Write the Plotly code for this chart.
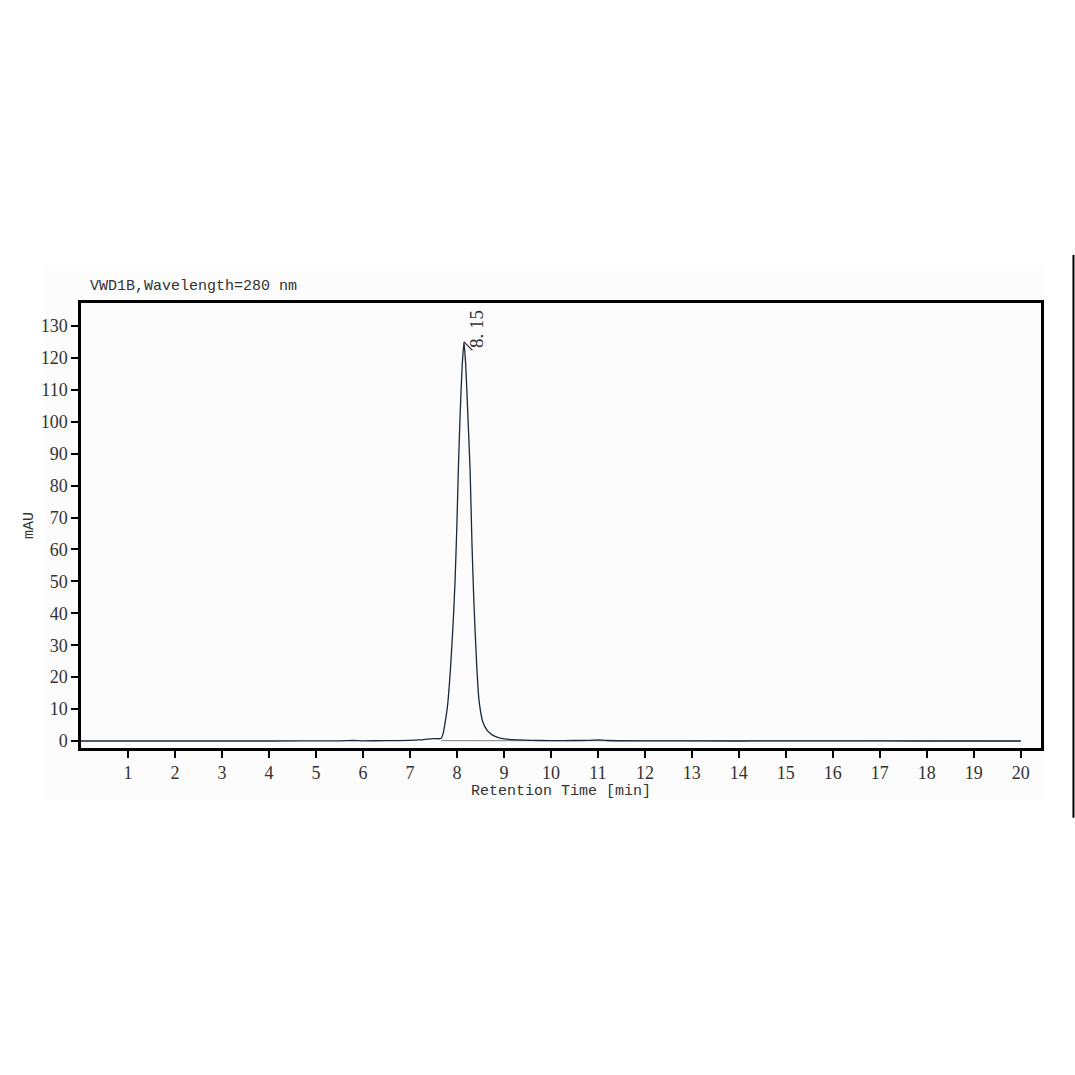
import plotly.graph_objects as go

# Chromatogram signal (time in min, signal in mAU)
time_min = [0.0, 2.0, 4.0, 5.5, 5.8, 6.0, 6.5, 7.0, 7.2, 7.35, 7.5, 7.6, 7.66, 7.70,
            7.74, 7.80, 7.86, 7.92, 7.96, 8.00, 8.03, 8.07, 8.11, 8.15, 8.19, 8.23,
            8.28, 8.32, 8.36, 8.42, 8.47, 8.55, 8.64, 8.75, 8.9, 9.06, 9.3, 9.6,
            10.0, 10.5, 10.8, 11.0, 11.2, 12.0, 14.0, 16.0, 18.0, 20.0]
signal_mau = [0.0, 0.0, 0.0, 0.05, 0.15, 0.05, 0.1, 0.2, 0.35, 0.55, 0.75, 0.7, 0.8, 2.0,
              5.0, 11.0, 22.0, 37.0, 50.0, 68.0, 85.0, 103.0, 117.0, 125.0, 117.0, 103.0,
              85.0, 62.0, 44.0, 24.0, 12.8, 6.0, 3.4, 1.9, 1.0, 0.55, 0.35, 0.2,
              0.1, 0.15, 0.2, 0.35, 0.15, 0.05, 0.0, 0.05, 0.0, 0.0]

# integration baseline
baseline_x = [7.66, 20.0]
baseline_y = [0.1, 0.0]

peak_rt = 8.15
peak_height = 125.0
peak_label = "8. 15"

x_ticks = list(range(1, 21))
y_ticks = list(range(0, 131, 10))

fig = go.Figure()
fig.add_trace(go.Scatter(x=baseline_x, y=baseline_y, mode="lines",
                         line=dict(color="#808080", width=1), hoverinfo="skip"))
fig.add_trace(go.Scatter(x=time_min, y=signal_mau, mode="lines",
                         line=dict(color="#1b2838", width=1.3, shape="spline", smoothing=0.5)))

fig.add_annotation(x=peak_rt, y=peak_height, xref="x", yref="y",
                   ax=10, ay=10, axref="pixel", ayref="pixel",
                   showarrow=True, arrowhead=0, arrowwidth=1.2, arrowcolor="#222",
                   text="", standoff=0)
fig.add_annotation(x=peak_rt, y=peak_height, xref="x", yref="y",
                   xshift=13, yshift=-8, showarrow=False, text=peak_label,
                   textangle=-90, xanchor="center", yanchor="bottom",
                   font=dict(family="Liberation Serif", size=19, color="#333333"))

fig.add_annotation(text="VWD1B,Wavelength=280 nm", xref="paper", yref="paper",
                   x=0.007, y=1.0, xanchor="left", yanchor="bottom", yshift=6,
                   showarrow=False,
                   font=dict(family="Liberation Mono", size=15, color="#333333"))

# faint background panel and separator line at right
fig.add_shape(type="rect", xref="paper", yref="paper", x0=-0.0375, x1=1.004,
              y0=-0.117, y1=1.085, fillcolor="#fcfcfc", line=dict(width=0), layer="below")
fig.add_shape(type="line", xref="paper", yref="paper", x0=1.0338, x1=1.0338,
              y0=-0.157, y1=1.108, line=dict(color="black", width=2))

axis_font = dict(family="Liberation Serif", size=18, color="#333333")
fig.update_xaxes(range=[0, 20.43], tickvals=x_ticks, ticktext=[str(v) for v in x_ticks],
                 showgrid=False, zeroline=False, showline=True, linecolor="black",
                 linewidth=2.5, mirror=True, ticks="outside", ticklen=7, tickwidth=2,
                 tickcolor="black", tickfont=axis_font,
                 title=dict(text="Retention Time [min]", standoff=2,
                            font=dict(family="Liberation Mono", size=15, color="#333333")))
fig.update_yaxes(range=[-2.2, 137.2], tickvals=y_ticks, ticktext=[str(v) for v in y_ticks],
                 showgrid=False, zeroline=False, showline=True, linecolor="black",
                 linewidth=2.5, mirror=True, ticks="outside", ticklen=7, tickwidth=2,
                 tickcolor="black", tickfont=axis_font,
                 title=dict(text="mAU", standoff=4,
                            font=dict(family="Liberation Mono", size=15, color="#333333")))

fig.update_layout(width=1075, height=1075, showlegend=False,
                  margin=dict(l=81, r=34, t=303, b=327),
                  paper_bgcolor="white", plot_bgcolor="#fdfdfd")

fig.write_html("out.html", config={"displayModeBar": False},
               post_script="document.body.style.margin='0';document.body.style.overflow='hidden';")
